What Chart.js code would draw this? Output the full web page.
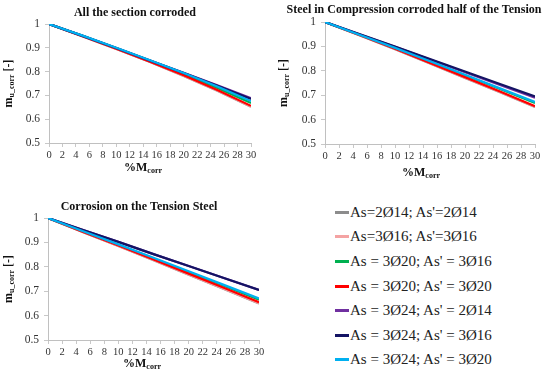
<!DOCTYPE html>
<html>
<head>
<meta charset="utf-8">
<script src="https://cdn.jsdelivr.net/npm/chart.js@4.4.0/dist/chart.umd.min.js"></script>
<style>
  html, body { margin: 0; padding: 0; background: #fff; }
  #wrap { position: relative; width: 550px; height: 377px; overflow: hidden; }
  canvas { position: absolute; }
  .lg { position: absolute; left: 335px; font-family: "Liberation Serif", "Times New Roman", serif; font-size: 15px; color: #222; white-space: nowrap; height: 18px; line-height: 18px; }
  .lg .sw { display: inline-block; width: 14px; height: 3px; vertical-align: middle; margin-right: 1px; position: relative; top: -1px; }
</style>
</head>
<body>
<div id="wrap">
  <canvas id="c1" width="275" height="190" style="left:0;top:0;width:275px;height:190px"></canvas>
  <canvas id="c2" width="275" height="190" style="left:275px;top:0;width:275px;height:190px"></canvas>
  <canvas id="c3" width="275" height="187" style="left:0;top:190px;width:275px;height:187px"></canvas>
  <div id="legend"></div>
</div>
<script>
// ---------- DATA ----------
const xValues = [0, 5, 10, 15, 20, 25, 30];
const xTicks = [0, 2, 4, 6, 8, 10, 12, 14, 16, 18, 20, 22, 24, 26, 28, 30];
const yTicks = [0.5, 0.6, 0.7, 0.8, 0.9, 1];

const seriesNames = [
  "As=2Ø14; As'=2Ø14",
  "As=3Ø16; As'=3Ø16",
  "As = 3Ø20; As' = 3Ø16",
  "As = 3Ø20; As' = 3Ø20",
  "As = 3Ø24; As' = 2Ø14",
  "As = 3Ø24; As' = 3Ø16",
  "As = 3Ø24; As' = 3Ø20"
];
const seriesColors = ["#8c8c8c", "#f4a3a3", "#00b050", "#ff0000", "#7030a0", "#141464", "#00b0f0"];

// Chart 1: All the section corroded
const allGray   = [1, 0.948, 0.895, 0.840, 0.782, 0.720, 0.652];
const allPink   = [1, 0.948, 0.895, 0.841, 0.783, 0.721, 0.653];
const allGreen  = [1, 0.950, 0.898, 0.845, 0.790, 0.731, 0.668];
const allRed    = [1, 0.949, 0.896, 0.842, 0.785, 0.723, 0.656];
const allPurple = [1, 0.950, 0.899, 0.847, 0.795, 0.742, 0.688];
const allNavy   = [1, 0.950, 0.899, 0.847, 0.794, 0.740, 0.685];
const allCyan   = [1, 0.951, 0.900, 0.848, 0.794, 0.737, 0.676];

// Chart 2: Steel in Compression corroded half of the Tension
const halfGray   = [1, 0.945, 0.888, 0.830, 0.771, 0.712, 0.652];
const halfPink   = [1, 0.945, 0.889, 0.831, 0.772, 0.713, 0.653];
const halfGreen  = [1, 0.947, 0.893, 0.838, 0.782, 0.725, 0.668];
const halfRed    = [1, 0.946, 0.890, 0.832, 0.774, 0.715, 0.655];
const halfPurple = [1, 0.949, 0.898, 0.846, 0.794, 0.742, 0.690];
const halfNavy   = [1, 0.950, 0.899, 0.848, 0.797, 0.746, 0.695];
const halfCyan   = [1, 0.947, 0.894, 0.839, 0.784, 0.728, 0.672];

// Chart 3: Corrosion on the Tension Steel
const tenGray   = [1, 0.942, 0.885, 0.827, 0.768, 0.709, 0.650];
const tenPink   = [1, 0.942, 0.885, 0.828, 0.769, 0.710, 0.651];
const tenGreen  = [1, 0.945, 0.890, 0.834, 0.778, 0.722, 0.665];
const tenRed    = [1, 0.943, 0.887, 0.830, 0.772, 0.714, 0.655];
const tenPurple = [1, 0.951, 0.902, 0.852, 0.803, 0.754, 0.705];
const tenNavy   = [1, 0.951, 0.902, 0.852, 0.803, 0.754, 0.705];
const tenCyan   = [1, 0.946, 0.892, 0.837, 0.782, 0.726, 0.670];

const titles = ["All the section corroded", "Steel in Compression corroded half of the Tension", "Corrosion on the Tension Steel"];

// ---------- CHARTS ----------
const SERIF = '"Liberation Serif", "Times New Roman", serif';
Chart.defaults.font.family = SERIF;

const textPlugin = {
  id: 'customText',
  afterDraw(chart, args, o) {
    const ctx = chart.ctx;
    const a = chart.chartArea;
    ctx.save();
    ctx.fillStyle = '#111';
    ctx.textBaseline = 'middle';
    ctx.font = 'bold 12px ' + SERIF;
    ctx.textAlign = 'center';
    ctx.fillText(o.title, o.titleX, o.titleY);
    const big = 'bold 12px ' + SERIF, small = 'bold 8px ' + SERIF;
    ctx.textAlign = 'left';
    ctx.font = big; const w1 = ctx.measureText('%M').width;
    ctx.font = small; const w2 = ctx.measureText('corr').width;
    let sx = o.xTitleX - (w1 + w2) / 2;
    ctx.font = big; ctx.fillText('%M', sx, o.xTitleY);
    ctx.font = small; ctx.fillText('corr', sx + w1, o.xTitleY + 3);
    ctx.translate(o.yTitleX, (a.top + a.bottom) / 2);
    ctx.rotate(-Math.PI / 2);
    ctx.font = big; const m1 = ctx.measureText('m').width;
    ctx.font = small; const m2 = ctx.measureText('u_corr').width;
    ctx.font = big; const m3 = ctx.measureText(' [-]').width;
    let yx = -(m1 + m2 + m3) / 2;
    ctx.font = big; ctx.fillText('m', yx, 0);
    ctx.font = small; ctx.fillText('u_corr', yx + m1, 3);
    ctx.font = big; ctx.fillText(' [-]', yx + m1 + m2, 0);
    ctx.restore();
  }
};

function makeChart(id, seriesList, area, W, H, txt) {
  const n = seriesList.length;
  const datasets = seriesList.map((vals, i) => ({
    label: seriesNames[i],
    data: xValues.map((x, j) => ({ x: x, y: vals[j] })),
    borderColor: seriesColors[i],
    backgroundColor: seriesColors[i],
    borderWidth: 2.2,
    pointRadius: 0,
    tension: 0,
    fill: false,
    order: n - i
  }));
  return new Chart(document.getElementById(id), {
    type: 'line',
    data: { datasets },
    plugins: [textPlugin],
    options: {
      responsive: false,
      animation: false,
      events: [],
      layout: { padding: { left: area.left - 30, right: W - area.right, top: area.top, bottom: H - area.bottom - 20 } },
      plugins: { legend: { display: false }, title: { display: false }, tooltip: { enabled: false }, customText: txt },
      scales: {
        x: {
          type: 'linear', min: 0, max: 30,
          afterFit: s => { s.height = 20; },
          afterBuildTicks: s => { s.ticks = xTicks.map(v => ({ value: v })); },
          grid: { drawOnChartArea: false, drawTicks: true, tickLength: 4, color: '#c8c8c8' },
          border: { color: '#c0c0c0', width: 1 },
          ticks: { autoSkip: false, maxRotation: 0, padding: 2, color: '#333', font: { family: SERIF, size: 10.5 } }
        },
        y: {
          type: 'linear', min: 0.5, max: 1,
          afterFit: s => { s.width = 30; },
          afterBuildTicks: s => { s.ticks = yTicks.map(v => ({ value: v })); },
          grid: { drawOnChartArea: false, drawTicks: true, tickLength: 4, color: '#c8c8c8' },
          border: { color: '#c0c0c0', width: 1 },
          ticks: { padding: 5, color: '#333', font: { family: SERIF, size: 11.5 }, callback: v => String(+v.toFixed(1)) }
        }
      }
    }
  });
}

makeChart('c1', [allGray, allPink, allGreen, allRed, allPurple, allNavy, allCyan],
  { left: 49, right: 251, top: 24, bottom: 143 }, 275, 190,
  { title: titles[0], titleX: 135, titleY: 13, xTitleX: 143, xTitleY: 168, yTitleX: 9 });
makeChart('c2', [halfGray, halfPink, halfGreen, halfRed, halfPurple, halfNavy, halfCyan],
  { left: 50, right: 260, top: 22, bottom: 144 }, 275, 190,
  { title: titles[1], titleX: 139, titleY: 10, xTitleX: 146, xTitleY: 173, yTitleX: 9 });
makeChart('c3', [tenGray, tenPink, tenGreen, tenRed, tenPurple, tenNavy, tenCyan],
  { left: 48, right: 259, top: 28, bottom: 150 }, 275, 187,
  { title: titles[2], titleX: 139, titleY: 17, xTitleX: 142, xTitleY: 174, yTitleX: 9 });

// ---------- LEGEND ----------
const lg = document.getElementById('legend');
seriesNames.forEach((name, i) => {
  const d = document.createElement('div');
  d.className = 'lg';
  d.style.top = (211.7 + i * 24.6 - 9) + 'px';
  const sw = document.createElement('span');
  sw.className = 'sw';
  sw.style.background = seriesColors[i];
  d.appendChild(sw);
  d.appendChild(document.createTextNode(name));
  lg.appendChild(d);
});
</script>
</body>
</html>
